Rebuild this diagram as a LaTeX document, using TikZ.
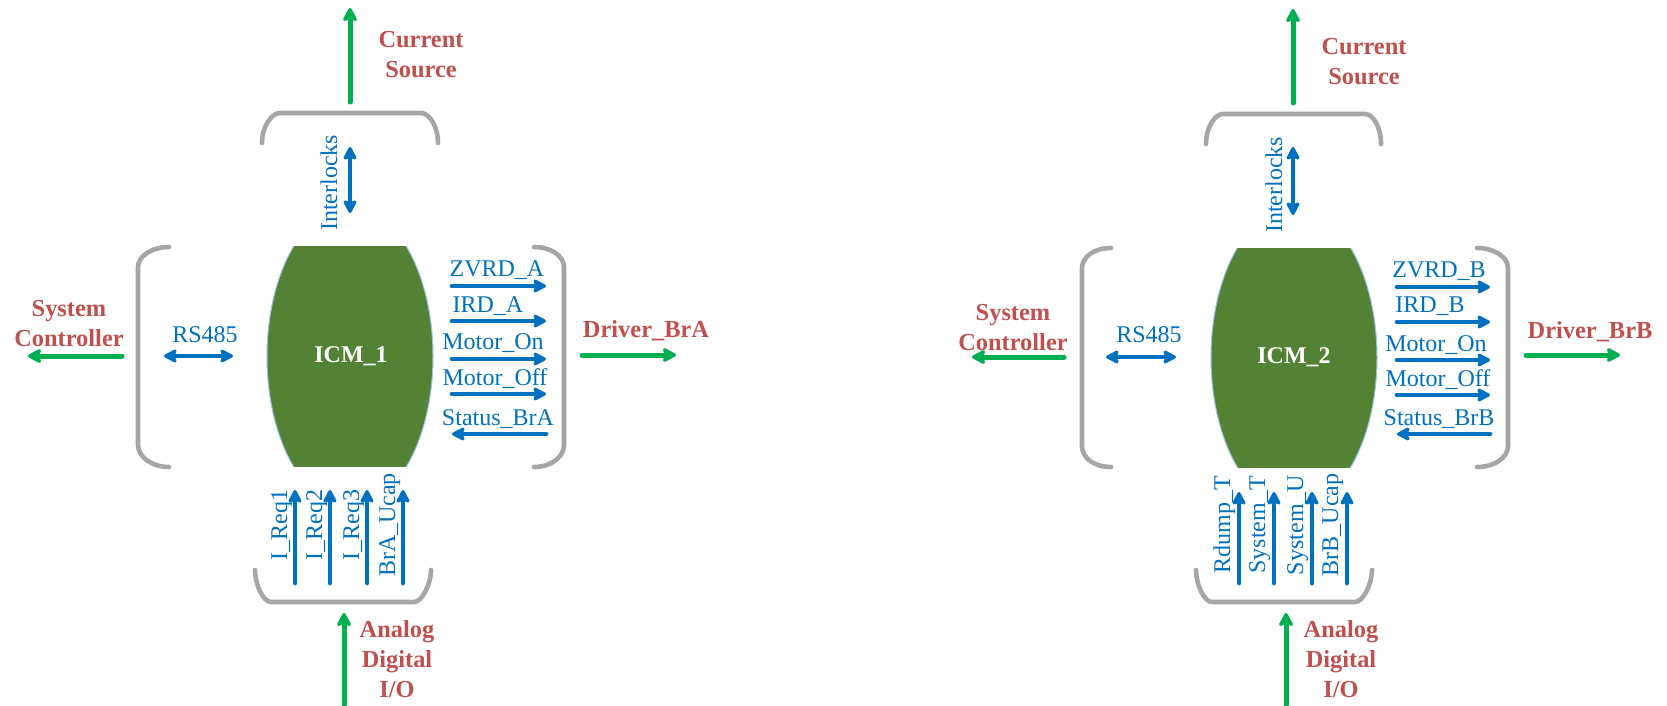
\documentclass[tikz,border=0pt]{standalone}
\usepackage{fontspec}
\setmainfont{Liberation Serif}
\usetikzlibrary{arrows.meta}

\definecolor{sigblue}{HTML}{0070C0}
\definecolor{extgreen}{HTML}{00B050}
\definecolor{extred}{HTML}{C0504D}
\definecolor{icmgreen}{HTML}{548235}
\definecolor{icmedge}{HTML}{9DC3E6}
\definecolor{brgray}{HTML}{A6A6A6}

\tikzset{
  sig/.style={line width=2.4pt, sigblue, line cap=round,
    -{Stealth[length=7.8pt,width=8pt,inset=1.6pt,round]}},
  sigboth/.style={line width=2.4pt, sigblue, line cap=round,
    {Stealth[length=7.8pt,width=8pt,inset=1.6pt,round]}-{Stealth[length=7.8pt,width=8pt,inset=1.6pt,round]}},
  ext/.style={line width=2.5pt, extgreen, line cap=round,
    -{Stealth[length=8pt,width=8.5pt,inset=1.6pt,round]}},
  bracket/.style={line width=2.3pt, brgray, line cap=round},
  siglabel/.style={text=sigblue, font=\fontsize{12}{14}\selectfont, inner sep=0pt},
  extlabel/.style={text=extred, font=\fontsize{12.2}{15}\selectfont\bfseries, align=center, inner sep=0pt},
  icmlabel/.style={text=white, font=\fontsize{12}{14}\selectfont\bfseries, inner sep=0pt},
}

\begin{document}
\begin{tikzpicture}[x=0.5pt,y=-0.5pt]
  \useasboundingbox (0,0) rectangle (1667,706);

  % ---- ICM 1 ----
  \begin{scope}[shift={(351,0)}]
    \begin{scope}
      \clip (-90,247) rectangle (90,466);
      \fill[icmgreen] (-1,356.5) ellipse [x radius=83, y radius=150];
      \draw[icmedge, line width=0.5pt] (-1,356.5) ellipse [x radius=83, y radius=150];
    \end{scope}
    \node[icmlabel, anchor=base] (icmA) at (0,362) {ICM\_1};

    \draw[bracket] (-89,143) .. controls (-89,126) and (-79,113) .. (-71,113) -- (70,113)
      .. controls (78,113) and (87,126) .. (87,143);
    \draw[bracket] (-182,247) .. controls (-199,247) and (-213,256) .. (-213,267) -- (-213,445)
      .. controls (-213,457) and (-199,467) .. (-182,467);
    \draw[bracket] (183,247) .. controls (200,247) and (213,256) .. (213,267) -- (213,445)
      .. controls (213,457) and (200,467) .. (183,467);
    \draw[bracket] (-96,570) .. controls (-96,584) and (-88,602) .. (-80,602) -- (63,602)
      .. controls (71,602) and (80,584) .. (80,570);

    \draw[ext] (-1,102) -- (-1,8);
    \node[extlabel] (csA) at (70,55) {Current\\Source};
    \draw[ext] (-229,356) -- (-323,356);
    \node[extlabel] (scA) at (-282,324) {System\\Controller};
    \draw[ext] (231,355) -- (325,355);
    \node[extlabel, anchor=base] (drvA) at (295,337) {Driver\_BrA};
    \draw[ext] (-7,705) -- (-7,613);
    \node[extlabel] (adA) at (46,659) {Analog\\Digital\\I/O};

    \draw[sigboth] (-1,147) -- (-1,213);
    \node[siglabel, rotate=90, anchor=base] (ilA) at (-14,183) {Interlocks};
    \draw[sigboth] (-187,356) -- (-118,356);
    \node[siglabel, anchor=base] (rsA) at (-146,342) {RS485};

    \foreach \y/\a/\b/\lx/\txt [count=\i] in {286/101/195/146/ZVRD\_A, 321/101/195/137/IRD\_A,
        359/101/195/142/Motor\_On, 394/101/195/144/Motor\_Off, 434/195/101/147/Status\_BrA} {
      \draw[sig] (\a,\y) -- (\b,\y);
      \node[siglabel, anchor=base] (outA\i) at (\lx,\y-9) {\txt};
    }
    \foreach \x/\txt [count=\i] in {-56/I\_Req1, -21/I\_Req2, 16/I\_Req3, 52/BrA\_Ucap} {
      \draw[sig] (\x,583) -- (\x,490);
      \node[siglabel, rotate=90, anchor=base] (inA\i) at (\x-8,525) {\txt};
    }
  \end{scope}

  % ---- ICM 2 ----
  \begin{scope}[shift={(1294,0)}]
    \begin{scope}
      \clip (-90,248) rectangle (90,467);
      \fill[icmgreen] (0,357.5) ellipse [x radius=83, y radius=150];
      \draw[icmedge, line width=0.5pt] (0,357.5) ellipse [x radius=83, y radius=150];
    \end{scope}
    \node[icmlabel, anchor=base] (icmB) at (0,363) {ICM\_2};

    \draw[bracket] (-88,144) .. controls (-88,127) and (-79,114) .. (-71,114) -- (71,114)
      .. controls (79,114) and (87,127) .. (87,144);
    \draw[bracket] (-183,248) .. controls (-200,248) and (-212,257) .. (-212,268) -- (-212,446)
      .. controls (-212,458) and (-200,467) .. (-183,467);
    \draw[bracket] (183,248) .. controls (200,248) and (214,257) .. (214,268) -- (214,446)
      .. controls (214,458) and (200,467) .. (183,467);
    \draw[bracket] (-98,570) .. controls (-98,584) and (-90,602) .. (-82,602) -- (61,602)
      .. controls (69,602) and (78,584) .. (78,570);

    \draw[ext] (-1,103) -- (-1,9);
    \node[extlabel] (csB) at (70,62) {Current\\Source};
    \draw[ext] (-230,357) -- (-322,357);
    \node[extlabel] (scB) at (-281,328) {System\\Controller};
    \draw[ext] (232,355) -- (326,355);
    \node[extlabel, anchor=base] (drvB) at (296,338) {Driver\_BrB};
    \draw[ext] (-8,705) -- (-8,613);
    \node[extlabel] (adB) at (47,659) {Analog\\Digital\\I/O};

    \draw[sigboth] (-1,147) -- (-1,215);
    \node[siglabel, rotate=90, anchor=base] (ilB) at (-12,185) {Interlocks};
    \draw[sigboth] (-188,357) -- (-118,357);
    \node[siglabel, anchor=base] (rsB) at (-145,343) {RS485};

    \foreach \y/\a/\b/\lx/\txt [count=\i] in {287/103/196/145/ZVRD\_B, 322/103/196/136/IRD\_B,
        360/103/196/142/Motor\_On, 395/103/196/144/Motor\_Off, 434/196/103/145/Status\_BrB} {
      \draw[sig] (\a,\y) -- (\b,\y);
      \node[siglabel, anchor=base] (outB\i) at (\lx,\y-9) {\txt};
    }
    \foreach \x/\txt [count=\i] in {-55/Rdump\_T, -20/System\_T, 18/System\_U, 53/BrB\_Ucap} {
      \draw[sig] (\x,583) -- (\x,492);
      \node[siglabel, rotate=90, anchor=base] (inB\i) at (\x-9,525) {\txt};
    }
  \end{scope}
\end{tikzpicture}
\end{document}
